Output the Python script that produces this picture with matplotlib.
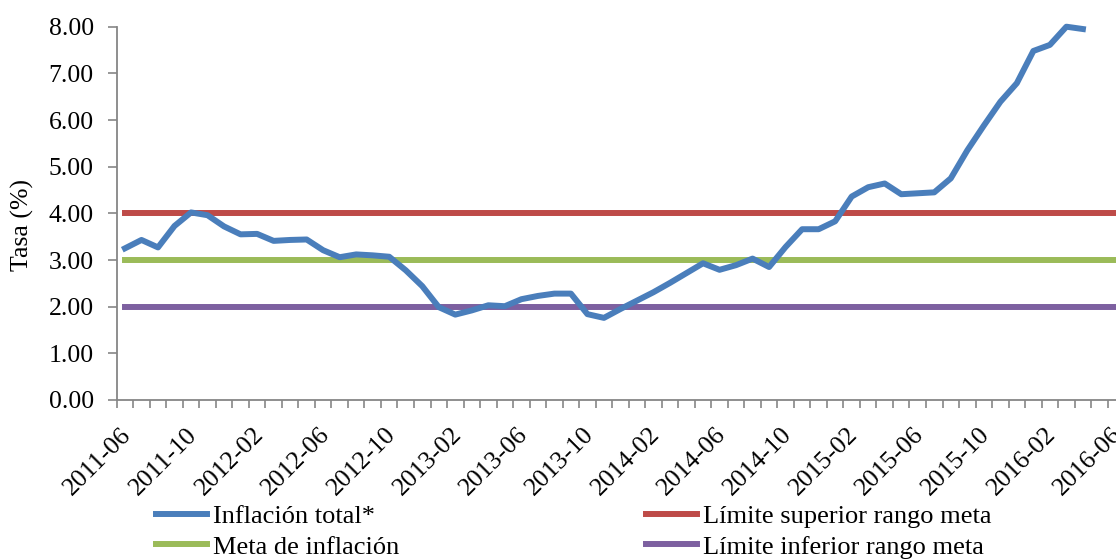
import matplotlib
matplotlib.use("Agg")
import matplotlib.pyplot as plt
from matplotlib.transforms import ScaledTranslation

plt.rcParams['font.family'] = ['Liberation Serif', 'DejaVu Serif']

# Categories: monthly from 2011-06 to 2016-06
years_months = []
for y in range(2011, 2017):
    for m in range(1, 13):
        if (y, m) >= (2011, 6) and (y, m) <= (2016, 6):
            years_months.append(f"{y}-{m:02d}")
categories = years_months  # 61 months

inflacion_total = [3.25, 3.43, 3.27, 3.73, 4.02, 3.96, 3.72, 3.55, 3.56, 3.41,
                   3.43, 3.44, 3.21, 3.06, 3.12, 3.10, 3.07, 2.78, 2.44, 1.99,
                   1.83, 1.92, 2.03, 2.01, 2.16, 2.23, 2.28, 2.28, 1.84, 1.76,
                   1.95, 2.13, 2.31, 2.51, 2.72, 2.93, 2.79, 2.89, 3.03, 2.85,
                   3.28, 3.66, 3.66, 3.83, 4.36, 4.56, 4.64, 4.41, 4.43, 4.45,
                   4.75, 5.35, 5.88, 6.39, 6.79, 7.48, 7.61, 8.00, 7.95]
meta = [3.0] * len(categories)
limite_superior = [4.0] * len(categories)
limite_inferior = [2.0] * len(categories)
tick_labels = categories[::4]

W, H = 1116, 559
fig = plt.figure(figsize=(W / 100, H / 100), dpi=100)
ax_left, ax_right, ax_top, ax_bottom = 116.7, 1124.2, 26.7, 400.0
ax = fig.add_axes([ax_left / W, 1 - ax_bottom / H,
                   (ax_right - ax_left) / W, (ax_bottom - ax_top) / H])

n = len(categories)
x_all = list(range(n))
x_inf = list(range(len(inflacion_total)))

lw = 4.3
l1, = ax.plot(x_inf, inflacion_total, color='#4A7EBB', lw=lw, label='Inflación total*',
              solid_joinstyle='round', zorder=5, clip_on=False)
l2, = ax.plot(x_all, meta, color='#9BBB59', lw=lw, label='Meta de inflación', zorder=3)
l3, = ax.plot(x_all, limite_superior, color='#BE4B48', lw=lw, label='Límite superior rango meta', zorder=3)
l4, = ax.plot(x_all, limite_inferior, color='#7D60A0', lw=lw, label='Límite inferior rango meta', zorder=3)

ax.set_xlim(-0.5, n - 0.5)
ax.set_ylim(0, 8)

ax.set_yticks([0, 1, 2, 3, 4, 5, 6, 7, 8])
ax.set_yticklabels([f"{v:.2f}" for v in range(9)])

# tick marks between categories, labels at category centres
ax.set_xticks([i - 0.5 for i in range(n + 1)])
ax.set_xticklabels([])
ax.set_xticks(list(range(0, n, 4)), minor=True)
ax.set_xticklabels(tick_labels, minor=True, rotation=45, ha='right', va='top',
                   rotation_mode='anchor')
ax.tick_params(axis='x', which='minor', length=0, pad=17, labelsize=18.5)
ax.tick_params(axis='x', which='major', length=6, width=1.2, color='#868686', direction='out')
ax.tick_params(axis='y', length=6.5, width=1.2, color='#868686', pad=10, labelsize=18.5)
shift = ScaledTranslation(-5 / 100, 0, fig.dpi_scale_trans)
for lab in ax.get_xticklabels(minor=True):
    lab.set_transform(lab.get_transform() + shift)

for s in ['top', 'right']:
    ax.spines[s].set_visible(False)
for s in ['left', 'bottom']:
    ax.spines[s].set_color('#868686')
    ax.spines[s].set_linewidth(1.3)

ax.set_ylabel('Tasa (%)', fontsize=18.5)
ax.yaxis.set_label_coords(-0.082, 0.47)

fig.legend(handles=[l1, l2, l3, l4], ncol=2, loc='upper left',
           bbox_to_anchor=(156 / W, 1 - 505 / H), frameon=False, fontsize=19,
           handlelength=1.93, handletextpad=0.23, columnspacing=9.35,
           labelspacing=0.25, borderpad=0, borderaxespad=0)

fig.savefig('out.png', dpi=100)
